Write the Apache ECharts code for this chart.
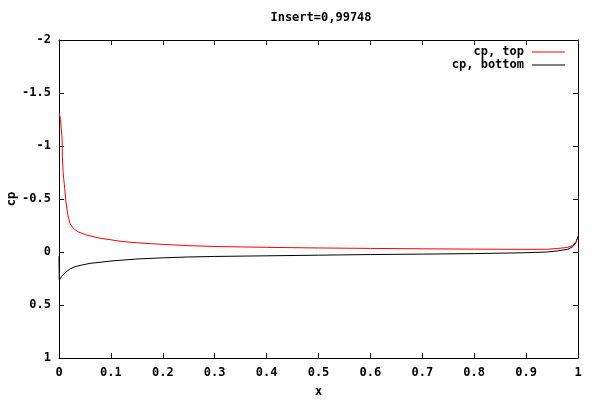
<!DOCTYPE html>
<html>
<head>
<meta charset="utf-8">
<script src="https://cdn.jsdelivr.net/npm/echarts@6/dist/echarts.min.js"></script>
<style>html,body{margin:0;padding:0;background:#fff}#c{width:600px;height:400px}</style>
</head>
<body>
<div id="c"></div>
<script>
const titleText = 'Insert=0,99748';
const seriesNames = ['cp, top', 'cp, bottom'];
const topX  = [0.0005, 0.003, 0.004, 0.006, 0.0065, 0.008, 0.011, 0.013, 0.015, 0.017, 0.021, 0.028, 0.037, 0.053, 0.079, 0.1, 0.12, 0.15, 0.2, 0.25, 0.3, 0.4, 0.5, 0.6, 0.7, 0.8, 0.9, 0.94, 0.96, 0.98, 0.99, 0.996, 1.0];
const topCp = [-1.31, -1.25, -1.18, -1.075, -0.9, -0.745, -0.6, -0.49, -0.415, -0.35, -0.27, -0.22, -0.19, -0.16, -0.13, -0.115, -0.1, -0.087, -0.072, -0.06, -0.052, -0.044, -0.038, -0.034, -0.03, -0.027, -0.025, -0.026, -0.033, -0.043, -0.062, -0.095, -0.13];
const botX  = [0, 0.0005, 0.002, 0.005, 0.012, 0.021, 0.031, 0.044, 0.06, 0.079, 0.1, 0.15, 0.2, 0.25, 0.3, 0.4, 0.5, 0.6, 0.7, 0.8, 0.9, 0.94, 0.96, 0.98, 0.99, 0.996, 1.0];
const botCp = [0.04, 0.265, 0.265, 0.23, 0.195, 0.16, 0.138, 0.123, 0.107, 0.097, 0.085, 0.066, 0.055, 0.047, 0.042, 0.036, 0.03, 0.024, 0.02, 0.015, 0.007, 0.0, -0.01, -0.025, -0.05, -0.09, -0.15];
const xTicks = [0, 0.1, 0.2, 0.3, 0.4, 0.5, 0.6, 0.7, 0.8, 0.9, 1];
const yTicks = [-2, -1.5, -1, -0.5, 0, 0.5, 1];

const FONT = 'DejaVu Sans Mono';
const txt = {fontFamily: FONT, fontWeight: 'bold', fontSize: 12, color: '#000'};
const zip = (a, b) => a.map((v, i) => [v, b[i]]);

const axisLineStyle = {show: true, onZero: false, lineStyle: {color: '#000', width: 1}};
const xCommon = {type: 'value', min: xTicks[0], max: xTicks[xTicks.length - 1], interval: 0.1,
  axisLine: axisLineStyle, axisTick: {show: true, inside: true, length: 5, lineStyle: {color: '#000'}},
  splitLine: {show: false}};
const yCommon = {type: 'value', inverse: true, min: yTicks[0], max: yTicks[yTicks.length - 1], interval: 0.5,
  axisLine: axisLineStyle, axisTick: {show: true, inside: true, length: 5, lineStyle: {color: '#000'}},
  splitLine: {show: false}};

const chart = echarts.init(document.getElementById('c'), null, {renderer: 'canvas'});
chart.setOption({
  animation: false,
  backgroundColor: '#fff',
  title: {text: titleText, left: 321, top: 12, padding: 0, textAlign: 'center',
    textStyle: Object.assign({}, txt)},
  legend: {
    orient: 'vertical', right: 35, top: 45.5, align: 'right', itemGap: 0, padding: 0,
    icon: 'rect', itemWidth: 33, itemHeight: 1,
    itemStyle: {opacity: 1, borderWidth: 0},
    textStyle: Object.assign({}, txt, {lineHeight: 13, padding: [0, 3, 0, 0]}),
    data: seriesNames
  },
  grid: {left: 59, right: 22, top: 40, bottom: 42, outerBoundsMode: 'none', containLabel: false},
  xAxis: [
    Object.assign({}, xCommon, {position: 'bottom', name: 'x', nameLocation: 'middle', nameGap: 28,
      nameMoveOverlap: false,
      nameTextStyle: Object.assign({}, txt),
      axisLabel: Object.assign({}, txt, {margin: 9})}),
    Object.assign({}, xCommon, {position: 'top', axisLabel: {show: false}})
  ],
  yAxis: [
    Object.assign({}, yCommon, {position: 'left', name: 'cp', nameLocation: 'middle', nameGap: 41, nameRotate: 90,
      nameMoveOverlap: false,
      nameTextStyle: Object.assign({}, txt),
      axisLabel: Object.assign({}, txt, {margin: 8})}),
    Object.assign({}, yCommon, {position: 'right', axisLabel: {show: false}})
  ],
  series: [
    {name: seriesNames[0], type: 'line', data: zip(topX, topCp), symbol: 'none', showSymbol: false,
      color: '#ff0000', lineStyle: {width: 1, color: '#ff0000'}, z: 3},
    {name: seriesNames[1], type: 'line', data: zip(botX, botCp), symbol: 'none', showSymbol: false,
      color: '#000000', lineStyle: {width: 1, color: '#000000'}, z: 2}
  ]
});
</script>
</body>
</html>
